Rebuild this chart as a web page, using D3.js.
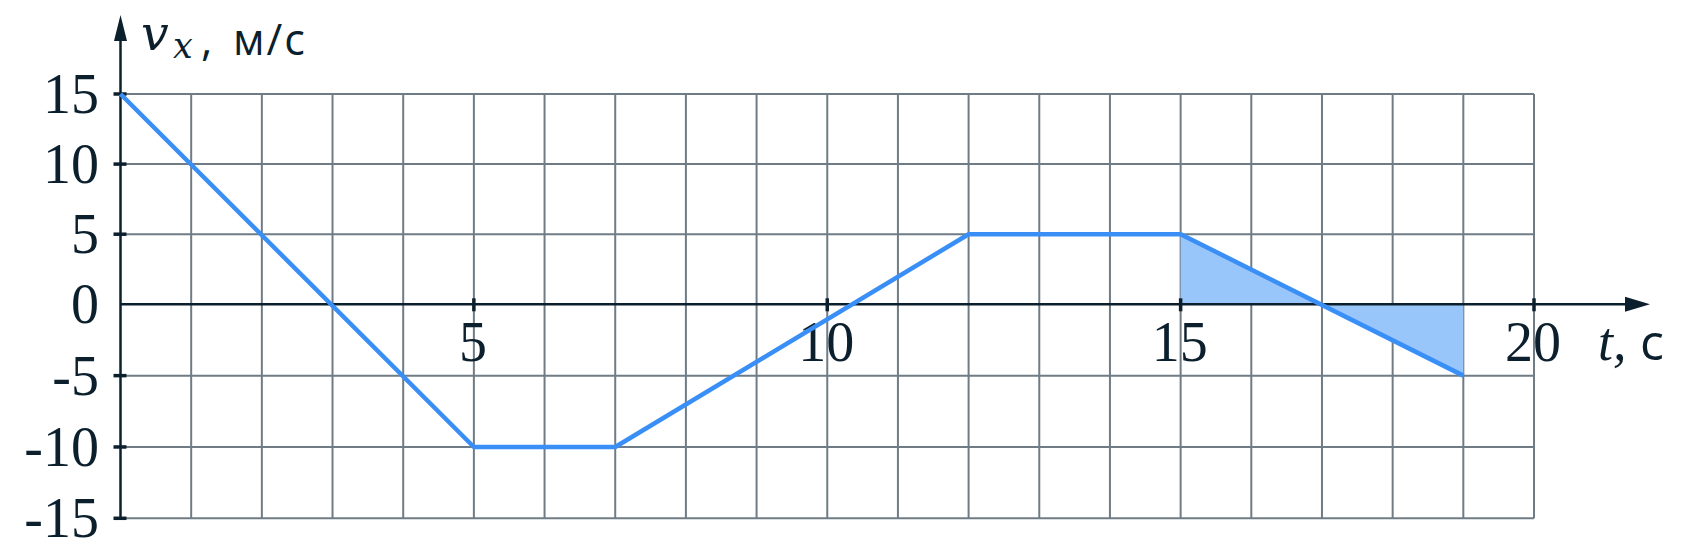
<!DOCTYPE html>
<html>
<head>
<meta charset="utf-8">
<script src="https://cdn.jsdelivr.net/npm/d3@7"></script>
<style>
  html, body { margin: 0; padding: 0; background: #ffffff; }
  svg { display: block; }
</style>
</head>
<body>
<svg id="chart" width="1687" height="550"></svg>
<script>
// ---- data ----
const timeValues = [0, 5, 7, 12, 15, 19];
const velocityValues = [15, -10, -10, 5, 5, -5];
const shadedTime = [15, 17, 19];
const shadedVelocity = [5, 0, -5];
const yTickValues = [15, 10, 5, 0, -5, -10, -15];
const yTickLabels = ["15", "10", "5", "0", "-5", "-10", "-15"];
const xTickValues = [5, 10, 15, 20];
const xTickLabels = ["5", "10", "15", "20"];
const xGridValues = d3.range(1, 21);
const yGridValues = [15, 10, 5, -5, -10, -15];

// ---- styles ----
const AXIS = "#0b1f2d";
const GRID = "#6f7c86";
const LINE = "#3a8ff6";
const FILL = "#98c6fb";
const SERIF = "'Liberation Serif', 'Times New Roman', serif";
const MATH = "'DejaVu Serif', serif";
const SANS = "'Open Sans', 'Noto Sans', sans-serif";

const svg = d3.select("#chart");
const x = d3.scaleLinear().domain([0, 20]).range([120.5, 1534]);
const y = d3.scaleLinear().domain([-15, 0, 15]).range([518.3, 304.3, 94]);

// grid
const grid = svg.append("g");
grid.selectAll("line.v").data(xGridValues).enter().append("line")
  .attr("x1", d => x(d)).attr("x2", d => x(d))
  .attr("y1", y(15)).attr("y2", y(-15))
  .attr("stroke", GRID).attr("stroke-width", 2);
grid.selectAll("line.h").data(yGridValues).enter().append("line")
  .attr("x1", x(0)).attr("x2", x(20))
  .attr("y1", d => y(d)).attr("y2", d => y(d))
  .attr("stroke", GRID).attr("stroke-width", 2);

// shaded area
const shaded = shadedTime.map((t, i) => [t, shadedVelocity[i]]);
svg.append("path")
  .datum(shaded)
  .attr("d", d3.area().x(d => x(d[0])).y0(y(0)).y1(d => y(d[1])))
  .attr("fill", FILL);

// axes
const axes = svg.append("g");
axes.append("line")
  .attr("x1", x(0)).attr("x2", 1628)
  .attr("y1", y(0)).attr("y2", y(0))
  .attr("stroke", AXIS).attr("stroke-width", 2.5);
axes.append("path")
  .attr("d", `M1650,${y(0)} L1625,${y(0) - 7.5} L1625,${y(0) + 7.5} Z`)
  .attr("fill", AXIS);
axes.append("line")
  .attr("x1", x(0)).attr("x2", x(0))
  .attr("y1", y(-15)).attr("y2", 38)
  .attr("stroke", AXIS).attr("stroke-width", 2.5);
axes.append("path")
  .attr("d", `M${x(0)},15 L${x(0) - 6.5},41 L${x(0) + 6.5},41 Z`)
  .attr("fill", AXIS);

// y ticks
axes.selectAll("line.yt").data(yTickValues.filter(d => d !== 0)).enter().append("line")
  .attr("x1", x(0) - 7).attr("x2", x(0) + 6)
  .attr("y1", d => y(d)).attr("y2", d => y(d))
  .attr("stroke", AXIS).attr("stroke-width", 3.5);
// x ticks
axes.selectAll("line.xt").data(xTickValues).enter().append("line")
  .attr("x1", d => x(d)).attr("x2", d => x(d))
  .attr("y1", y(0) - 6).attr("y2", y(0) + 7)
  .attr("stroke", AXIS).attr("stroke-width", 3.5);

// y labels
axes.selectAll("text.yl").data(yTickValues).enter().append("text")
  .attr("x", 99).attr("y", d => y(d) + 19)
  .attr("text-anchor", "end")
  .attr("font-family", SERIF).attr("font-size", 56).attr("fill", AXIS)
  .text((d, i) => yTickLabels[i]);

// x labels
axes.selectAll("text.xl").data(xTickValues).enter().append("text")
  .attr("x", d => x(d) - 1).attr("y", 361)
  .attr("text-anchor", "middle")
  .attr("font-family", SERIF).attr("font-size", 56).attr("fill", AXIS)
  .text((d, i) => xTickLabels[i]);

// data line
const pts = timeValues.map((t, i) => [t, velocityValues[i]]);
svg.append("path")
  .datum(pts)
  .attr("d", d3.line().x(d => x(d[0])).y(d => y(d[1])))
  .attr("fill", "none").attr("stroke", LINE).attr("stroke-width", 4.5)
  .attr("stroke-linejoin", "round");

// axis titles
const t1 = svg.append("g").attr("fill", AXIS);
t1.append("text").attr("x", 141).attr("y", 50)
  .attr("font-family", MATH).attr("font-style", "italic").attr("font-size", 49).text("v");
t1.append("text").attr("x", 173).attr("y", 58)
  .attr("font-family", MATH).attr("font-style", "italic").attr("font-size", 35).text("x");
t1.append("text").attr("x", 201).attr("y", 55)
  .attr("font-family", SANS).attr("font-size", 44).text(",");
t1.append("text").attr("x", 233).attr("y", 55)
  .attr("font-family", SANS).attr("font-size", 43).attr("letter-spacing", 2).text("м/с");

t1.append("text").attr("x", 1598).attr("y", 360)
  .attr("font-family", SERIF).attr("font-style", "italic").attr("font-size", 54).text("t,");
t1.append("text").attr("x", 1640).attr("y", 360)
  .attr("font-family", SANS).attr("font-size", 50).text("с");
</script>
</body>
</html>
